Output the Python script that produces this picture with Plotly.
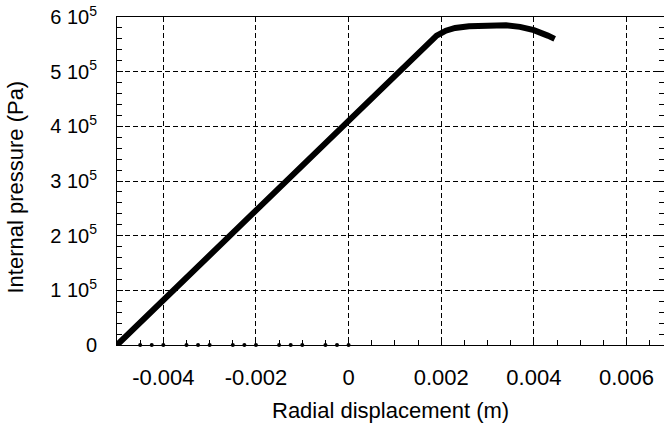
import plotly.graph_objects as go

# Main curve: radial displacement (m) vs internal pressure (Pa)
x_disp = [-0.0050, -0.0040, -0.0020, 0.0, 0.0010, 0.0019, 0.0021, 0.0023,
          0.0026, 0.0030, 0.0034, 0.0037, 0.0040, 0.0043, 0.00445]
pressure = [0, 0.82e5, 2.46e5, 4.08e5, 4.90e5, 5.66e5, 5.75e5, 5.80e5,
            5.83e5, 5.85e5, 5.85e5, 5.82e5, 5.76e5, 5.66e5, 5.60e5]

# Zero-pressure points along the baseline
x_zero = [-0.0045, -0.00425, -0.004, -0.0035, -0.00325, -0.003, -0.0025, -0.00225,
          -0.002, -0.0015, -0.00125, -0.001, -0.0005, -0.00025, 0.0]
p_zero = [0] * len(x_zero)

x_ticks = [-0.004, -0.002, 0, 0.002, 0.004, 0.006]
x_ticktext = ["-0.004", "-0.002", "0", "0.002", "0.004", "0.006"]
y_ticks = [0, 1e5, 2e5, 3e5, 4e5, 5e5, 6e5]
y_ticktext = ["0", "1 10<sup>5</sup>", "2 10<sup>5</sup>", "3 10<sup>5</sup>",
              "4 10<sup>5</sup>", "5 10<sup>5</sup>", "6 10<sup>5</sup>"]

x_title = "Radial displacement (m)"
y_title = "Internal pressure (Pa)"

fig = go.Figure()
fig.add_trace(go.Scatter(x=x_zero, y=p_zero, mode="markers",
                         marker=dict(color="black", size=4),
                         cliponaxis=False, showlegend=False))
fig.add_trace(go.Scatter(x=x_disp, y=pressure, mode="lines",
                         line=dict(color="black", width=6),
                         showlegend=False))

fam = "Liberation Sans, Arial, sans-serif"
xfont = dict(family=fam, size=22, color="black")
yfont = dict(family=fam, size=20, color="black")

fig.update_layout(
    width=664, height=434,
    margin=dict(l=117, r=0, t=17, b=89, autoexpand=False),
    paper_bgcolor="white", plot_bgcolor="white",
    font=xfont,
    xaxis=dict(
        range=[-0.005, 0.00681],
        tickvals=x_ticks, ticktext=x_ticktext,
        showgrid=True, gridcolor="black", griddash="5px,3px", gridwidth=1,
        zeroline=False, automargin=False,
        showline=True, linecolor="black", linewidth=1, mirror=True,
        ticks="inside", ticklen=6, tickcolor="black",
        minor=dict(dtick=0.0005, tick0=0, ticks="inside", ticklen=5,
                   tickcolor="black", showgrid=False),
        ticklabelstandoff=13,
        tickfont=xfont,
    ),
    yaxis=dict(
        range=[0, 6e5],
        tickvals=y_ticks, ticktext=y_ticktext,
        showgrid=True, gridcolor="black", griddash="5px,3px", gridwidth=1,
        zeroline=False, automargin=False,
        showline=True, linecolor="black", linewidth=1, mirror="ticks",
        ticks="inside", ticklen=6, tickcolor="black",
        minor=dict(dtick=2e4, tick0=0, ticks="inside", ticklen=5,
                   tickcolor="black", showgrid=False),
        ticklabelstandoff=15,
        tickfont=yfont,
    ),
    annotations=[
        dict(text=x_title, xref="paper", yref="paper", x=0.5, y=-65 / 328,
             xanchor="center", yanchor="middle", showarrow=False, font=xfont),
        dict(text=y_title, xref="paper", yref="paper", x=-101 / 547, y=0.48,
             xanchor="center", yanchor="middle", textangle=-90,
             showarrow=False, font=xfont),
    ],
)

fig.write_html("out.html", config={"displayModeBar": False},
               post_script="document.body.style.margin='0px';document.body.style.padding='0px';")
